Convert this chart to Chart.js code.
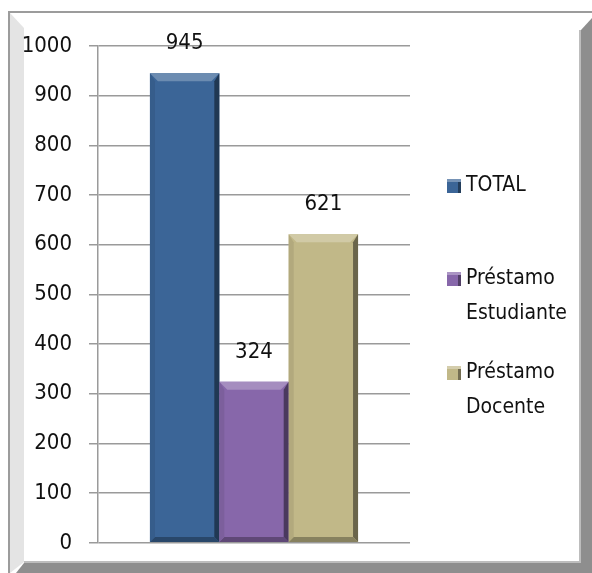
<!DOCTYPE html>
<html>
<head>
<meta charset="utf-8">
<script src="https://cdn.jsdelivr.net/npm/chart.js@4/dist/chart.umd.min.js"></script>
<style>
  html, body { margin: 0; padding: 0; background: #fff; }
  #wrap { width: 592px; height: 573px; }
</style>
</head>
<body>
<div id="wrap"><canvas id="c" width="592" height="573"></canvas></div>
<script>
'use strict';

// data
const categories = [''];
const seriesLabels = [['TOTAL'], ['Préstamo', 'Estudiante'], ['Préstamo', 'Docente']];
const totalValues = [945];
const estudianteValues = [324];
const docenteValues = [621];
const yMin = 0;
const yMax = 1000;
const yStep = 100;

const FONT = "'DejaVu Sans Condensed', 'Liberation Sans Narrow', sans-serif";
const colors = ['#3b6597', '#8767aa', '#c1b888'];

function shade(hex, amt) {
    const n = parseInt(hex.slice(1), 16);
    let r = (n >> 16) & 255, g = (n >> 8) & 255, b = n & 255;
    const f = (v) => Math.max(0, Math.min(255, Math.round(amt >= 0 ? v + (255 - v) * amt : v * (1 + amt))));
    return `rgb(${f(r)},${f(g)},${f(b)})`;
}

// 3D-looking frame around the whole chart
const framePlugin = {
    id: 'frame',
    beforeDraw(chart) {
        const ctx = chart.ctx;
        const W = chart.width, H = chart.height;
        ctx.save();
        ctx.fillStyle = '#fff';
        ctx.fillRect(0, 0, W, H);
        // left light bevel
        ctx.fillStyle = '#e4e4e4';
        ctx.beginPath();
        ctx.moveTo(10, 13); ctx.lineTo(24, 28); ctx.lineTo(24, 562); ctx.lineTo(10, H); ctx.closePath();
        ctx.fill();
        // right dark side
        ctx.fillStyle = '#8e8e8e';
        ctx.beginPath();
        ctx.moveTo(581, 30); ctx.lineTo(W, 18); ctx.lineTo(W, H); ctx.lineTo(581, H); ctx.closePath();
        ctx.fill();
        // bottom dark side
        ctx.beginPath();
        ctx.moveTo(24, 563); ctx.lineTo(581, 563); ctx.lineTo(W, H); ctx.lineTo(16, H); ctx.closePath();
        ctx.fill();
        ctx.fillStyle = '#bdbdbd';
        ctx.fillRect(24, 561, 557, 2);
        ctx.fillRect(579, 30, 2, 533);
        // outer lines
        ctx.strokeStyle = '#9c9c9c';
        ctx.lineWidth = 2;
        ctx.beginPath();
        ctx.moveTo(9, H); ctx.lineTo(9, 12); ctx.lineTo(W, 12);
        ctx.stroke();
        ctx.restore();
    }
};

// bevel on bars + value labels
const bevelPlugin = {
    id: 'bevel',
    afterDatasetsDraw(chart) {
        const ctx = chart.ctx;
        chart.data.datasets.forEach((ds, di) => {
            const meta = chart.getDatasetMeta(di);
            meta.data.forEach((bar, i) => {
                const base = ds.backgroundColor;
                const l = bar.x - bar.width / 2, r = bar.x + bar.width / 2;
                const t = bar.y, b = bar.base;
                const s = 8, sb = 5;
                ctx.save();
                // top
                ctx.fillStyle = shade(base, 0.25);
                ctx.beginPath();
                ctx.moveTo(l, t); ctx.lineTo(r, t); ctx.lineTo(r - s, t + s); ctx.lineTo(l + s, t + s); ctx.closePath();
                ctx.fill();
                // right
                ctx.fillStyle = shade(base, -0.45);
                ctx.beginPath();
                ctx.moveTo(r, t); ctx.lineTo(r, b); ctx.lineTo(r - sb, b - sb); ctx.lineTo(r - sb, t + s); ctx.closePath();
                ctx.fill();
                // bottom
                ctx.fillStyle = shade(base, -0.3);
                ctx.beginPath();
                ctx.moveTo(l, b); ctx.lineTo(r, b); ctx.lineTo(r - sb, b - sb); ctx.lineTo(l + sb, b - sb); ctx.closePath();
                ctx.fill();
                // left
                ctx.fillStyle = shade(base, -0.08);
                ctx.beginPath();
                ctx.moveTo(l, t); ctx.lineTo(l + sb, t + s); ctx.lineTo(l + sb, b - sb); ctx.lineTo(l, b); ctx.closePath();
                ctx.fill();
                // value
                ctx.fillStyle = '#111';
                ctx.font = `22px ${FONT}`;
                ctx.textAlign = 'center';
                ctx.textBaseline = 'middle';
                ctx.fillText(String(ds.data[i]), bar.x, t - 30);
                ctx.restore();
            });
        });
    }
};

// legend on the right with two-line labels
const sideLegend = {
    id: 'sideLegend',
    afterDraw(chart) {
        const ctx = chart.ctx;
        const rows = [186, 279, 373];
        ctx.save();
        ctx.font = `21px ${FONT}`;
        ctx.textAlign = 'left';
        ctx.textBaseline = 'middle';
        chart.data.datasets.forEach((ds, i) => {
            const y = rows[i];
            const bx = 447, bs = 14;
            ctx.fillStyle = ds.backgroundColor;
            ctx.fillRect(bx, y - 7, bs, bs);
            ctx.fillStyle = shade(ds.backgroundColor, -0.4);
            ctx.fillRect(bx + bs - 3, y - 7, 3, bs);
            ctx.fillStyle = shade(ds.backgroundColor, 0.3);
            ctx.fillRect(bx, y - 7, bs, 3);
            ctx.fillStyle = '#111';
            seriesLabels[i].forEach((line, k) => {
                ctx.fillText(line, 466, y + k * 35);
            });
        });
        ctx.restore();
    }
};

new Chart(document.getElementById('c'), {
    type: 'bar',
    data: {
        labels: categories,
        datasets: [
            { label: seriesLabels[0].join(' '), data: totalValues, backgroundColor: colors[0] },
            { label: seriesLabels[1].join(' '), data: estudianteValues, backgroundColor: colors[1] },
            { label: seriesLabels[2].join(' '), data: docenteValues, backgroundColor: colors[2] }
        ]
    },
    options: {
        responsive: false,
        animation: false,
        layout: { padding: { left: 0, top: 46, right: 182, bottom: 30 } },
        datasets: { bar: { categoryPercentage: 0.667, barPercentage: 1.0, borderWidth: 0 } },
        plugins: {
            legend: { display: false },
            tooltip: { enabled: false }
        },
        scales: {
            x: { display: false },
            y: {
                min: yMin,
                max: yMax,
                ticks: {
                    stepSize: yStep,
                    color: '#111',
                    padding: 17,
                    font: { family: FONT, size: 22 },
                    callback: (v) => String(v)
                },
                grid: { color: '#9a9a9a', lineWidth: 1.5, tickLength: 9 },
                border: { color: '#9a9a9a', width: 1.5 },
                afterFit(scale) { scale.width = 98; }
            }
        }
    },
    plugins: [framePlugin, bevelPlugin, sideLegend]
});
</script>
</body>
</html>
